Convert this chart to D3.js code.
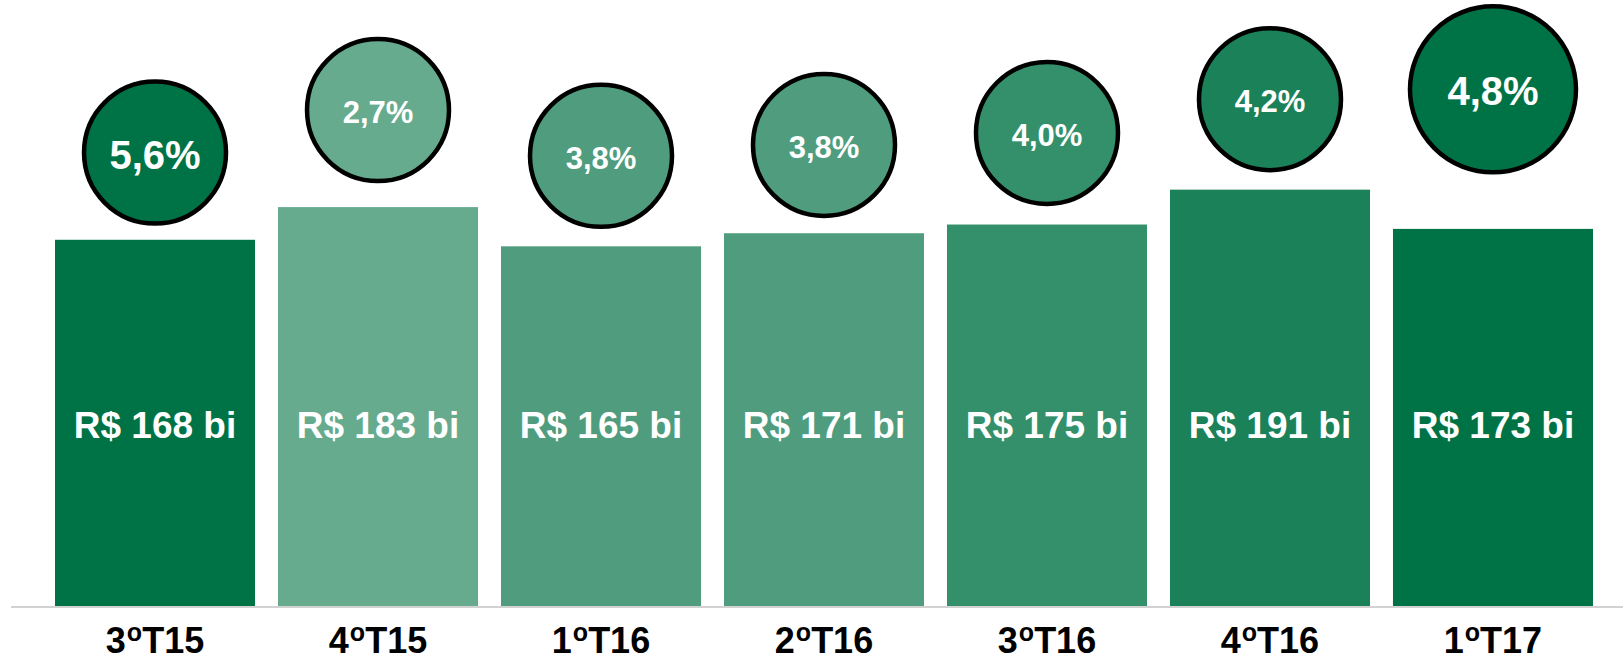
<!DOCTYPE html>
<html>
<head>
<meta charset="utf-8">
<script src="https://cdn.jsdelivr.net/npm/d3@7"></script>
<style>
  html, body { margin: 0; padding: 0; background: #fff; }
  svg { display: block; font-family: "Liberation Sans", Arial, sans-serif; }
</style>
</head>
<body>
<svg id="chart" width="1623" height="665"></svg>
<script>
// quarters (number, superscript, rest)
const quarters = ['3ºT15', '4ºT15', '1ºT16', '2ºT16', '3ºT16', '4ºT16', '1ºT17'];
// volume, R$ bi
const volume = [168, 183, 165, 171, 175, 191, 173];
// growth, %
const growth = [5.6, 2.7, 3.8, 3.8, 4.0, 4.2, 4.8];
// height where each bubble sits, in the same R$ bi units as the bars
const bubbleLevel = [208, 227.5, 206.5, 211.5, 217, 232.5, 237];

const barColors = ['#007346', '#67ab8f', '#4f9d7e', '#4f9d7e', '#34906a', '#1b8159', '#007346'];

const svg = d3.select('#chart');
const baseY = 606;

const x = d3.scaleBand()
  .domain(quarters)
  .range([55, 1593])
  .paddingInner(0.103)
  .paddingOuter(0);

const y = d3.scaleLinear()
  .domain([0, 278])
  .range([baseY, 0]);

const rows = quarters.map((q, i) => ({
  q: q, v: volume[i], g: growth[i], lvl: bubbleLevel[i], color: barColors[i], i: i
}));

// BARS
svg.append('g')
  .selectAll('rect')
  .data(rows)
  .enter()
  .append('rect')
  .attr('x', d => x(d.q))
  .attr('y', d => y(d.v))
  .attr('width', x.bandwidth())
  .attr('height', d => y(0) - y(d.v))
  .attr('fill', d => d.color);

// baseline
svg.append('line')
  .attr('x1', 11)
  .attr('x2', 1623)
  .attr('y1', baseY + 1)
  .attr('y2', baseY + 1)
  .style('stroke', '#d2d2d2')
  .style('stroke-width', 2);

// bar labels
svg.append('g')
  .selectAll('text')
  .data(rows)
  .enter()
  .append('text')
  .attr('x', d => x(d.q) + x.bandwidth() / 2)
  .attr('y', 438)
  .attr('text-anchor', 'middle')
  .attr('fill', '#fff')
  .style('font-weight', 'bold')
  .style('font-size', '37px')
  .text(d => 'R$ ' + d.v + ' bi');

// BUBBLES
const last = rows.length - 1;
let bubble = svg.append('g')
  .selectAll('g')
  .data(rows)
  .enter()
  .append('g')
  .attr('transform', d => `translate(${x(d.q) + x.bandwidth() / 2},${y(d.lvl)})`);

bubble.append('circle')
  .attr('r', d => d.i === last ? 83 : 71)
  .attr('fill', d => d.color)
  .style('stroke', '#000')
  .style('stroke-width', 4.5);

bubble.append('text')
  .attr('text-anchor', 'middle')
  .attr('y', d => (d.i === 0 || d.i === last) ? 16 : 13)
  .attr('fill', '#fff')
  .style('font-weight', 'bold')
  .style('font-size', d => (d.i === 0 || d.i === last) ? '40px' : '31px')
  .text(d => d3.format('.1f')(d.g).replace('.', ',') + '%');

// AXIS LABELS
let tick = svg.append('g')
  .selectAll('text')
  .data(rows)
  .enter()
  .append('text')
  .attr('x', d => x(d.q) + x.bandwidth() / 2)
  .attr('y', 653)
  .attr('text-anchor', 'middle')
  .attr('fill', '#000')
  .style('font-weight', 'bold')
  .style('font-size', '36px');

tick.append('tspan').text(d => d.q.split('º')[0]);
tick.append('tspan')
  .attr('dy', -12)
  .attr('dx', 1)
  .style('font-size', '25px')
  .text('o');
tick.append('tspan')
  .attr('dy', 12)
  .text(d => d.q.split('º')[1]);
</script>
</body>
</html>
